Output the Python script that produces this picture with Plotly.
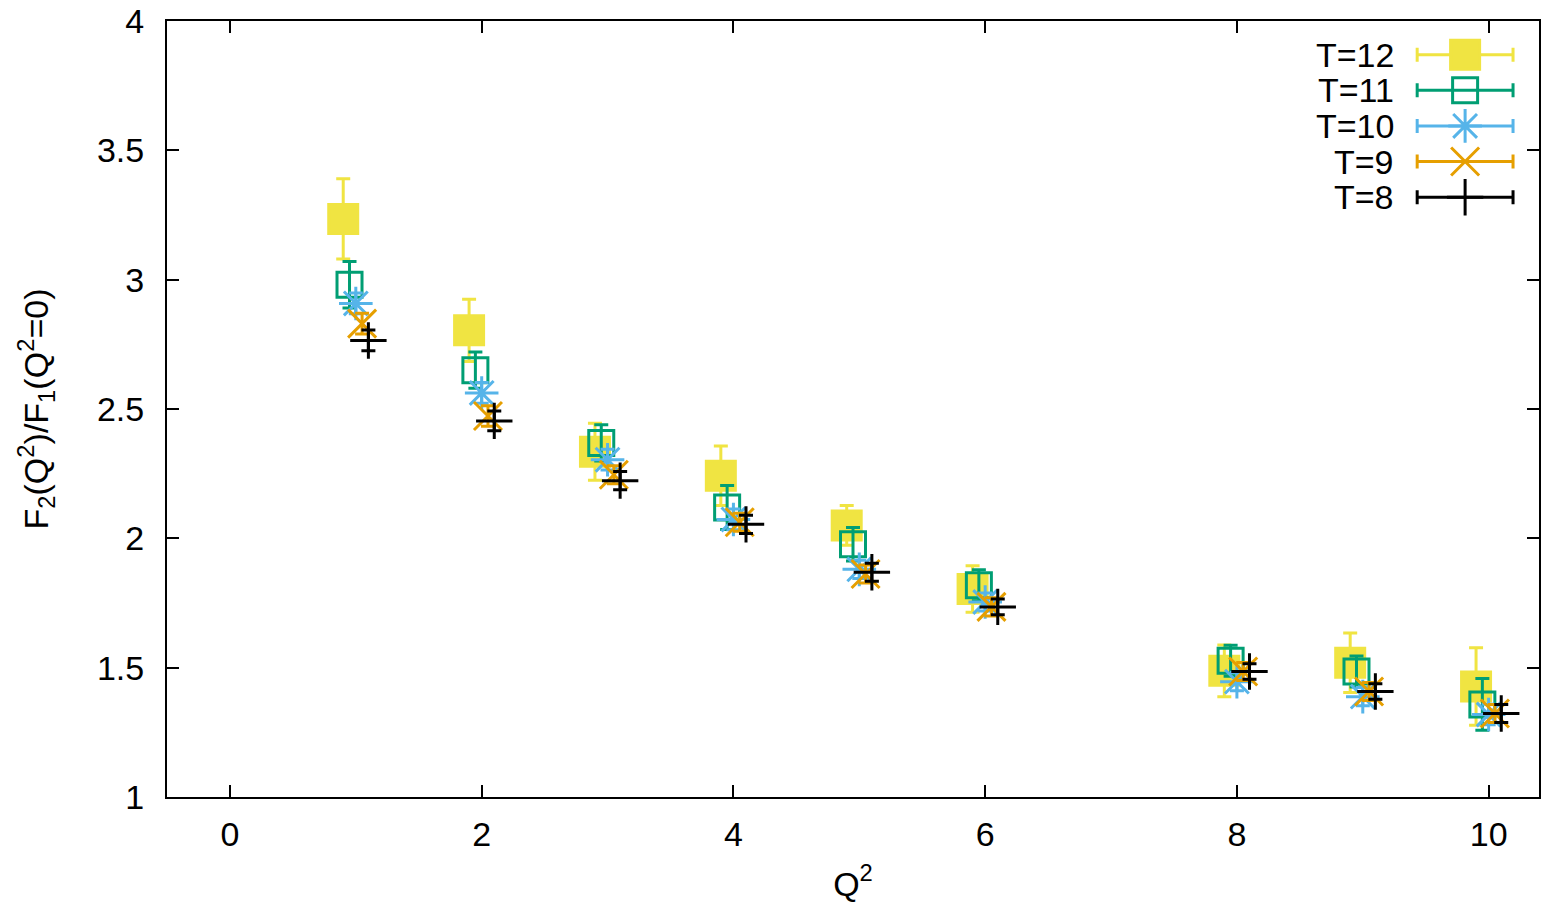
import plotly.graph_objects as go

Q2 = [1, 2, 3, 4, 5, 6, 8, 9, 10]
labels = ["T=12", "T=11", "T=10", "T=9", "T=8"]
offsets = [-0.1, -0.05, 0.0, 0.05, 0.1]

y_T12 = [3.235, 2.804, 2.335, 2.242, 2.050, 1.804, 1.488, 1.519, 1.427]
e_T12 = [0.155, 0.120, 0.110, 0.115, 0.077, 0.090, 0.100, 0.115, 0.150]
y_T11 = [2.980, 2.650, 2.369, 2.119, 1.977, 1.819, 1.527, 1.485, 1.358]
e_T11 = [0.090, 0.070, 0.070, 0.085, 0.065, 0.060, 0.060, 0.060, 0.100]
y_T10 = [2.908, 2.562, 2.304, 2.073, 1.880, 1.754, 1.446, 1.388, 1.319]
e_T10 = [0.040, 0.040, 0.040, 0.040, 0.035, 0.035, 0.035, 0.035, 0.040]
y_T9 = [2.830, 2.473, 2.246, 2.062, 1.862, 1.735, 1.485, 1.408, 1.323]
e_T9 = [0.040, 0.040, 0.035, 0.035, 0.035, 0.035, 0.035, 0.035, 0.035]
y_T8 = [2.765, 2.454, 2.223, 2.054, 1.869, 1.735, 1.485, 1.408, 1.323]
e_T8 = [0.040, 0.038, 0.035, 0.035, 0.035, 0.030, 0.030, 0.030, 0.035]

ys = [y_T12, y_T11, y_T10, y_T9, y_T8]
es = [e_T12, e_T11, e_T10, e_T9, e_T8]
colors = ["#f0e442", "#009e73", "#56b4e9", "#e69f00", "#000000"]
symbols = ["square", "square-open", "asterisk-open", "x-thin-open", "cross-thin-open"]
sizes = [29, 25, 28, 28, 26]

W, H = 1543, 904
ML, MR, MT, MB = 167, 2, 13, 107
PW, PH = W - ML - MR, H - MT - MB
FONT = "Liberation Sans, Arial, Helvetica, sans-serif"
FS = 34

fig = go.Figure()
for lab, y, e, c, s, sz, off in zip(labels, ys, es, colors, symbols, sizes, offsets):
    fig.add_trace(go.Scatter(
        x=[q + off for q in Q2], y=y, mode="markers", name=lab,
        marker=dict(symbol=s, size=sz, color=c, line=dict(color=c, width=3)),
        error_y=dict(type="data", array=e, visible=True, color=c, thickness=3, width=7),
        showlegend=False, cliponaxis=False,
    ))

# legend key (drawn in pixel-space overlay axes, relative to plot area)
leg_x = 1300
leg_half = 48
leg_rows = [34, 70, 106, 142, 178]
for lab, c, s, sz, ry in zip(labels, colors, symbols, sizes, leg_rows):
    fig.add_trace(go.Scatter(
        x=[leg_x], y=[ry], xaxis="x2", yaxis="y2", mode="markers",
        marker=dict(symbol=s, size=sz, color=c, line=dict(color=c, width=3)),
        error_x=dict(type="constant", value=leg_half, visible=True, color=c, thickness=3, width=7),
        showlegend=False, cliponaxis=False, hoverinfo="skip",
    ))
    fig.add_annotation(x=1231, y=ry, xref="x2", yref="y2", text=lab,
                       showarrow=False, xanchor="right", yanchor="middle",
                       font=dict(family=FONT, size=FS, color="black"))

axis_common = dict(ticks="inside", ticklen=12, tickwidth=1.5, tickcolor="black",
                   showline=True, linecolor="black", linewidth=2, mirror="allticks",
                   showgrid=False, zeroline=False, ticklabeloverflow="allow",
                   tickfont=dict(family=FONT, size=FS, color="black"))

fig.update_layout(
    width=W, height=H, plot_bgcolor="white", paper_bgcolor="white",
    margin=dict(l=ML, r=MR, t=MT, b=MB),
    xaxis=dict(range=[-0.5, 10.4], tickvals=[0, 2, 4, 6, 8, 10], ticklabelstandoff=6,
               title=dict(text="Q<sup>2</sup>", font=dict(family=FONT, size=FS, color="black"), standoff=20),
               **axis_common),
    yaxis=dict(range=[1, 4], dtick=0.5, tick0=1, ticklabelstandoff=14,
               title=dict(text="F<sub>2</sub>(Q<sup>2</sup>)/F<sub>1</sub>(Q<sup>2</sup>=0)",
                          font=dict(family=FONT, size=FS, color="black"), standoff=38),
               **axis_common),
    xaxis2=dict(overlaying="x", anchor="y2", range=[0, PW], visible=False, fixedrange=True),
    yaxis2=dict(overlaying="y", anchor="x2", range=[PH, 0], visible=False, fixedrange=True),
    font=dict(family=FONT, color="black"),
)

fig.write_html("out.html", config={"displayModeBar": False},
               post_script="document.body.style.margin='0px';")
